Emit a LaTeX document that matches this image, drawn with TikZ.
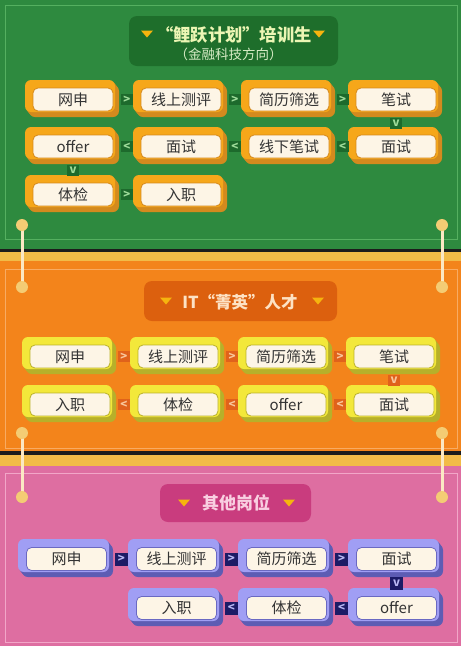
\documentclass[tikz,border=0pt]{standalone}
\usepackage{fontspec}
\setmainfont{Noto Sans CJK SC}
\usetikzlibrary{calc}
\definecolor{gBg}{HTML}{2E8A3F}
\definecolor{gLine}{HTML}{55B060}
\definecolor{gTitle}{HTML}{1E6E2B}
\definecolor{gTitleTxt}{HTML}{ECF6B4}
\definecolor{gSub}{HTML}{D6EBC4}
\definecolor{Glight}{HTML}{F6A71A}
\definecolor{Gdark}{HTML}{D38A1E}
\definecolor{Grim}{HTML}{D4881C}
\definecolor{Gconn}{HTML}{1D6A2C}
\definecolor{GconnTxt}{HTML}{9FDC9A}
\definecolor{sepBlack}{HTML}{1C1C1C}
\definecolor{sepYellow}{HTML}{F2BB47}
\definecolor{orBg}{HTML}{F3841B}
\definecolor{orLine}{HTML}{F8AB62}
\definecolor{orTitle}{HTML}{DC600E}
\definecolor{orTitleTxt}{HTML}{FDE2C4}
\definecolor{Olight}{HTML}{F3E83A}
\definecolor{Odark}{HTML}{B7B02A}
\definecolor{Orim}{HTML}{B9B12A}
\definecolor{Oconn}{HTML}{E0621B}
\definecolor{OconnTxt}{HTML}{F9C79C}
\definecolor{pBg}{HTML}{DE6EA1}
\definecolor{pLine}{HTML}{F2A6C8}
\definecolor{pTitle}{HTML}{C93C7E}
\definecolor{pTitleTxt}{HTML}{F9CFE1}
\definecolor{Plight}{HTML}{A09EF4}
\definecolor{Pdark}{HTML}{5D5CB4}
\definecolor{Prim}{HTML}{6A69C2}
\definecolor{Pconn}{HTML}{1C1B66}
\definecolor{PconnTxt}{HTML}{B9B8F5}
\definecolor{cream}{HTML}{FDF5E6}
\definecolor{txt}{HTML}{333333}
\definecolor{tri}{HTML}{F6B40E}
\definecolor{vline}{HTML}{FBE8C3}
\definecolor{dotc}{HTML}{F4CC74}
\tikzset{
  creambox/.style={rectangle, rounded corners=5pt, fill=cream, line width=0.8pt,
    minimum width=80pt, minimum height=23pt, inner sep=0pt, text=txt,
    font=\fontsize{15}{15}\selectfont},
  connbase/.style={rectangle, inner sep=0pt, minimum width=12pt, minimum height=11pt,
    font=\bfseries\fontsize{11.5}{11.5}\selectfont},
  connG/.style={connbase, fill=Gconn, text=GconnTxt},
  connO/.style={connbase, fill=Oconn, text=OconnTxt},
  connP/.style={connbase, fill=Pconn, text=PconnTxt, minimum width=13pt, minimum height=13pt},
  titlebox/.style={rectangle, rounded corners=8pt, inner sep=0pt},
  vl/.style={draw=vline, line width=3pt},
  dotst/.style={fill=dotc},
}
\newcommand\bx[7]{%
  \foreach \s in {1,2,3,4}{\fill[#7dark, rounded corners=6pt] ($(#2,#3)+(\s,1.25*\s)$) rectangle ($(#4,#5)+(-4+\s,-5+1.25*\s)$);}
  \fill[#7light, rounded corners=6pt] (#2,#3) rectangle ($(#4,#5)+(-4,-5)$);
  \node[creambox, draw=#7rim] (#1) at ($(#2,#3)!0.5!(#4,#5)+(1,1)$) {#6};
}
\newcommand\cn[4]{\path (#1) -- node[conn#4] {#3} (#2);}
\newcommand\tri[2]{\fill[tri] (#1-6,#2-3.5) -- (#1+6,#2-3.5) -- (#1,#2+3.5) -- cycle;}
\begin{document}
\begin{tikzpicture}[x=1pt,y=-1pt]
\useasboundingbox (0,0) rectangle (461,646);
% backgrounds
\fill[gBg] (0,0) rectangle (461,249);
\draw[gLine, line width=1pt] (5,5) rectangle (457,239);
\fill[sepBlack] (0,249) rectangle (461,252);
\fill[sepYellow] (0,252) rectangle (461,261);
\fill[orBg] (0,261) rectangle (461,451);
\draw[orLine, line width=1pt] (5,269) rectangle (457,448);
\fill[sepBlack] (0,451) rectangle (461,455);
\fill[sepYellow] (0,455) rectangle (461,466);
\fill[pBg] (0,466) rectangle (461,646);
\draw[pLine, line width=1pt] (5,473) rectangle (457,642);
% hanging lines
\coordinate (la1) at (22,225); \coordinate (lb1) at (22,287);
\coordinate (la2) at (22,433); \coordinate (lb2) at (22,497);
\coordinate (ra1) at (442,225); \coordinate (rb1) at (442,287);
\coordinate (ra2) at (442,433); \coordinate (rb2) at (442,497);
\foreach \a/\b in {la1/lb1,la2/lb2,ra1/rb1,ra2/rb2}{
  \draw[vl] (\a) -- (\b);
  \fill[dotst] (\a) circle (6);
  \fill[dotst] (\b) circle (6);
}
% titles
\node[titlebox, fill=gTitle, minimum width=209pt, minimum height=50pt] (gt) at (233.5,41) {};
\node[text=gTitleTxt, font=\bfseries\fontsize{17.3}{17.3}\selectfont, inner sep=0pt] (gt1) at (234,34.5) {“鲤跃计划”培训生};
\node[text=gSub, font=\fontsize{13.5}{13.5}\selectfont, inner sep=0pt] (gt2) at (228.5,54) {（金融科技方向）};
\tri{147}{34}\tri{319}{34}
\node[titlebox, fill=orTitle, minimum width=193pt, minimum height=40pt] (ot) at (240.5,301) {};
\node[text=orTitleTxt, font=\bfseries\fontsize{16.5}{17}\selectfont, inner sep=0pt] (ot1) at (240,302) {IT“菁英”人才};
\tri{166}{301}\tri{318}{301}
\node[titlebox, fill=pTitle, minimum width=151pt, minimum height=38pt] (pt) at (235.5,503) {};
\node[text=pTitleTxt, font=\bfseries\fontsize{17}{17}\selectfont, inner sep=0pt] (pt1) at (236,503) {其他岗位};
\tri{184}{503}\tri{289}{503}
% green boxes
\bx{g11}{25}{80}{119}{117}{网申}{G}
\bx{g12}{133}{80}{227}{117}{线上测评}{G}
\bx{g13}{241}{80}{335}{117}{简历筛选}{G}
\bx{g14}{348}{80}{442}{117}{笔试}{G}
\bx{g21}{25}{127}{119}{164}{offer}{G}
\bx{g22}{133}{127}{227}{164}{面试}{G}
\bx{g23}{241}{127}{335}{164}{线下笔试}{G}
\bx{g24}{348}{127}{442}{164}{面试}{G}
\bx{g31}{25}{175}{119}{212}{体检}{G}
\bx{g32}{133}{175}{227}{212}{入职}{G}
\cn{g11}{g12}{>}{G}\cn{g12}{g13}{>}{G}\cn{g13}{g14}{>}{G}
\cn{g14}{g24}{v}{G}
\cn{g24}{g23}{<}{G}\cn{g23}{g22}{<}{G}\cn{g22}{g21}{<}{G}
\cn{g21}{g31}{v}{G}
\cn{g31}{g32}{>}{G}
% orange boxes
\bx{o11}{22}{337}{116}{374}{网申}{O}
\bx{o12}{130}{337}{224}{374}{线上测评}{O}
\bx{o13}{238}{337}{332}{374}{简历筛选}{O}
\bx{o14}{346}{337}{440}{374}{笔试}{O}
\bx{o21}{22}{385}{116}{422}{入职}{O}
\bx{o22}{130}{385}{224}{422}{体检}{O}
\bx{o23}{238}{385}{332}{422}{offer}{O}
\bx{o24}{346}{385}{440}{422}{面试}{O}
\cn{o11}{o12}{>}{O}\cn{o12}{o13}{>}{O}\cn{o13}{o14}{>}{O}
\cn{o14}{o24}{v}{O}
\cn{o24}{o23}{<}{O}\cn{o23}{o22}{<}{O}\cn{o22}{o21}{<}{O}
% pink boxes
\bx{p11}{18}{539}{113}{577}{网申}{P}
\bx{p12}{128}{539}{223}{577}{线上测评}{P}
\bx{p13}{238}{539}{333}{577}{简历筛选}{P}
\bx{p14}{348}{539}{443}{577}{面试}{P}
\bx{p22}{128}{588}{223}{626}{入职}{P}
\bx{p23}{238}{588}{333}{626}{体检}{P}
\bx{p24}{348}{588}{443}{626}{offer}{P}
\cn{p11}{p12}{>}{P}\cn{p12}{p13}{>}{P}\cn{p13}{p14}{>}{P}
\cn{p14}{p24}{v}{P}
\cn{p24}{p23}{<}{P}\cn{p23}{p22}{<}{P}
\end{tikzpicture}
\end{document}
